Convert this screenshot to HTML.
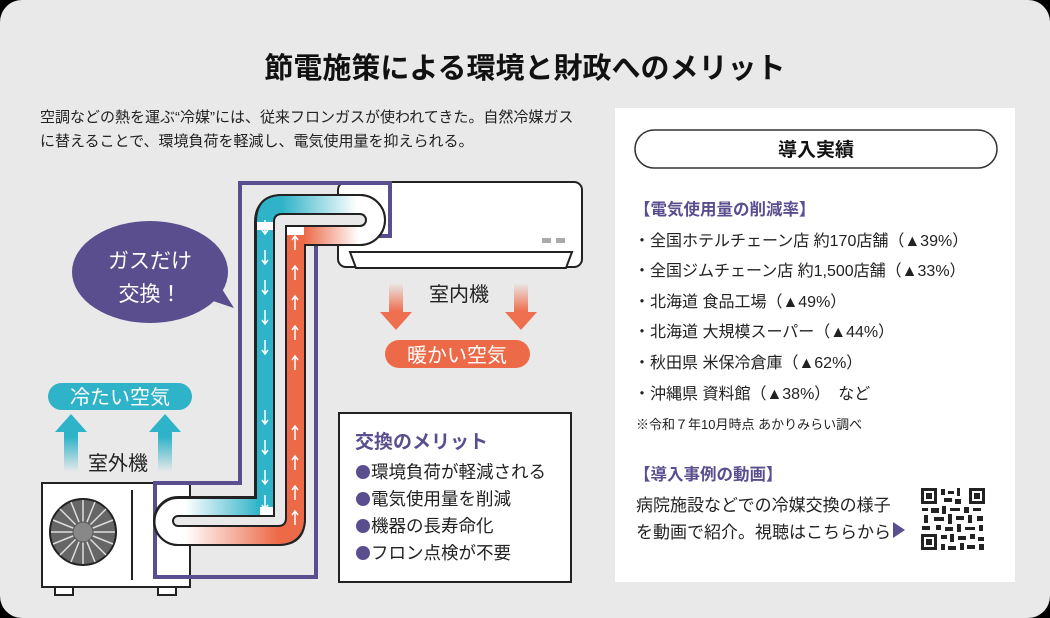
<!DOCTYPE html>
<html><head><meta charset="utf-8"><style>
html,body{margin:0;padding:0;background:#000;}
svg{display:block}
text{font-family:"Liberation Sans","Noto Sans CJK JP",sans-serif;}
</style></head><body>
<svg width="1050" height="618" viewBox="0 0 1050 618" xmlns="http://www.w3.org/2000/svg">
<defs>
<linearGradient id="bt" x1="0" x2="1"><stop offset="0" stop-color="#2fb3c8"/><stop offset="1" stop-color="#2fb3c8" stop-opacity="0"/></linearGradient>
<linearGradient id="bb" x1="0" x2="1"><stop offset="0" stop-color="#2fb3c8" stop-opacity="0"/><stop offset="1" stop-color="#2fb3c8"/></linearGradient>
<linearGradient id="ot" x1="0" x2="1"><stop offset="0" stop-color="#ec6a48"/><stop offset="1" stop-color="#ec6a48" stop-opacity="0"/></linearGradient>
<linearGradient id="ob" x1="0" x2="1"><stop offset="0" stop-color="#ec6a48" stop-opacity="0"/><stop offset="1" stop-color="#ec6a48"/></linearGradient>
<linearGradient id="au" x1="0" y1="1" x2="0" y2="0"><stop offset="0" stop-color="#2fb3c8" stop-opacity="0"/><stop offset="0.6" stop-color="#2fb3c8"/></linearGradient>
<linearGradient id="ad" x1="0" y1="0" x2="0" y2="1"><stop offset="0" stop-color="#ee7050" stop-opacity="0"/><stop offset="0.6" stop-color="#ee7050"/></linearGradient>
</defs>
<rect x="0" y="0" width="1050" height="618" rx="22" fill="#e9e9e9"/>
<text x="525" y="78" font-size="29" font-weight="bold" text-anchor="middle" fill="#111">節電施策による環境と財政へのメリット</text>
<text x="40" y="122" font-size="15" fill="#222">空調などの熱を運ぶ“冷媒”には、従来フロンガスが使われてきた。自然冷媒ガス</text>
<text x="40" y="146" font-size="15" fill="#222">に替えることで、環境負荷を軽減し、電気使用量を抑えられる。</text>

<!-- indoor unit -->
<rect x="338" y="182" width="244" height="85" rx="8" fill="#fff" stroke="#222" stroke-width="2"/>
<path d="M350 252 H572 L566 268 H356 Z" fill="#fff" stroke="#222" stroke-width="2"/>
<rect x="542" y="238" width="9" height="5" fill="#aaa"/><rect x="556" y="238" width="9" height="5" fill="#aaa"/>

<!-- outdoor unit -->
<rect x="42" y="483" width="148" height="104" fill="#fff" stroke="#222" stroke-width="2"/>
<rect x="55" y="587" width="18" height="8" fill="#fff" stroke="#222" stroke-width="2"/>
<rect x="158" y="587" width="18" height="8" fill="#fff" stroke="#222" stroke-width="2"/>
<circle cx="83" cy="532" r="33" fill="#666" stroke="#222" stroke-width="2"/>
<g stroke="#ddd" stroke-width="1.5">
<line x1="83" y1="532" x2="83" y2="500"/><line x1="83" y1="532" x2="115" y2="532"/><line x1="83" y1="532" x2="83" y2="564"/><line x1="83" y1="532" x2="51" y2="532"/>
<line x1="83" y1="532" x2="106" y2="509"/><line x1="83" y1="532" x2="106" y2="555"/><line x1="83" y1="532" x2="60" y2="555"/><line x1="83" y1="532" x2="60" y2="509"/>
<line x1="83" y1="532" x2="95" y2="502"/><line x1="83" y1="532" x2="113" y2="544"/><line x1="83" y1="532" x2="71" y2="562"/><line x1="83" y1="532" x2="53" y2="520"/>
<line x1="83" y1="532" x2="113" y2="520"/><line x1="83" y1="532" x2="95" y2="562"/><line x1="83" y1="532" x2="53" y2="544"/><line x1="83" y1="532" x2="71" y2="502"/>
</g>
<circle cx="83" cy="532" r="10" fill="#888" stroke="#555"/>
<line x1="132" y1="490" x2="132" y2="580" stroke="#222" stroke-width="2"/>

<!-- purple outline -->
<path d="M240 183 H390 V236 H316 V577 H155 V483 H240 Z" fill="none" stroke="#5b4e8f" stroke-width="4"/>

<!-- pipe loop -->
<path d="M360 205 H282 Q265 205 265 222 V507 H178 A14 14 0 0 0 178 535 H278 Q295 535 295 518 V235 H360 A15 15 0 0 0 360 205 Z" fill="none" stroke="#222" stroke-width="22"/>
<path d="M360 205 H282 Q265 205 265 222 V507 H178 A14 14 0 0 0 178 535 H278 Q295 535 295 518 V235 H360 A15 15 0 0 0 360 205 Z" fill="none" stroke="#fff" stroke-width="18"/>
<path d="M265 230 V507" stroke="#2fb3c8" stroke-width="18"/>
<path d="M265 222 Q265 205 282 205" fill="none" stroke="#2fb3c8" stroke-width="18"/>
<rect x="282" y="196" width="75" height="18" fill="url(#bt)"/>
<rect x="185" y="498" width="75" height="18" fill="url(#bb)"/>
<path d="M295 520 V235" stroke="#ec6a48" stroke-width="18"/>
<path d="M295 518 Q295 535 278 535" fill="none" stroke="#ec6a48" stroke-width="18"/>
<rect x="304" y="226" width="55" height="18" fill="url(#ot)"/>
<rect x="185" y="526" width="93" height="18" fill="url(#ob)"/>
<path d="M360 214 H282 Q274 214 274 222 V516 H178 A5 5 0 0 0 178 526 H278 Q286 526 286 518 V226 H360 A6 6 0 0 0 360 214" fill="#e9e9e9" stroke="#222" stroke-width="2"/>
<path d="M360 195 H282 Q256 195 256 222 V498 H178 A23 23 0 0 0 178 545 H278 Q305 545 305 518 V245 H360 A25 25 0 0 0 360 195" fill="none" stroke="#222" stroke-width="2"/>
<g stroke="#fff" stroke-width="1.5" fill="none">
<path d="M265 220v14m-3-4l3 4 3-4M265 250v14m-3-4l3 4 3-4M265 280v14m-3-4l3 4 3-4M265 310v14m-3-4l3 4 3-4M265 340v14m-3-4l3 4 3-4M265 410v14m-3-4l3 4 3-4M265 440v14m-3-4l3 4 3-4M265 470v14m-3-4l3 4 3-4M265 495v14m-3-4l3 4 3-4"/>
<path d="M295 250v-14m-3 4l3-4 3 4M295 280v-14m-3 4l3-4 3 4M295 310v-14m-3 4l3-4 3 4M295 340v-14m-3 4l3-4 3 4M295 370v-14m-3 4l3-4 3 4M295 440v-14m-3 4l3-4 3 4M295 470v-14m-3 4l3-4 3 4M295 500v-14m-3 4l3-4 3 4M295 525v-14m-3 4l3-4 3 4"/>
</g>

<!-- bubble -->
<ellipse cx="150" cy="272" rx="78" ry="51" fill="#5b4e8f"/>
<path d="M195 295 L234 308 L210 270 Z" fill="#5b4e8f"/>
<text x="150" y="268" font-size="21" fill="#fff" text-anchor="middle">ガスだけ</text>
<text x="150" y="301" font-size="21" fill="#fff" text-anchor="middle">交換！</text>

<!-- cold air -->
<rect x="48" y="383" width="144" height="27" rx="13.5" fill="#2fb3c8"/>
<text x="120" y="404" font-size="20" fill="#fff" text-anchor="middle">冷たい空気</text>
<path d="M64 472 V432 H55 L71 414 L87 432 H78 V472 Z" fill="url(#au)"/>
<path d="M158 472 V432 H149 L165 414 L181 432 H172 V472 Z" fill="url(#au)"/>
<text x="118" y="470" font-size="20" fill="#222" text-anchor="middle">室外機</text>

<!-- warm air -->
<path d="M389 283 V312 H380 L396 330 L412 312 H403 V283 Z" fill="url(#ad)"/>
<path d="M514 283 V312 H505 L521 330 L537 312 H528 V283 Z" fill="url(#ad)"/>
<text x="459" y="301" font-size="20" fill="#222" text-anchor="middle">室内機</text>
<rect x="385" y="340" width="145" height="28" rx="14" fill="#ec6a48"/>
<text x="457" y="362" font-size="20" fill="#fff" text-anchor="middle">暖かい空気</text>

<!-- merit box -->
<rect x="339" y="413" width="232" height="169" fill="#fff" stroke="#222" stroke-width="2"/>
<text x="355" y="448" font-size="19" font-weight="bold" fill="#5b4e8f">交換のメリット</text>
<g font-size="17.5" fill="#222">
<circle cx="363" cy="472" r="7" fill="#5b4e8f"/><text x="371" y="478">環境負荷が軽減される</text>
<circle cx="363" cy="499" r="7" fill="#5b4e8f"/><text x="371" y="505">電気使用量を削減</text>
<circle cx="363" cy="526" r="7" fill="#5b4e8f"/><text x="371" y="532">機器の長寿命化</text>
<circle cx="363" cy="553" r="7" fill="#5b4e8f"/><text x="371" y="559">フロン点検が不要</text>
</g>

<!-- right panel -->
<rect x="615" y="108" width="400" height="474" fill="#fff"/>
<rect x="635" y="130" width="362" height="38" rx="19" fill="#fff" stroke="#333" stroke-width="1.5"/>
<text x="816" y="156" font-size="19" font-weight="bold" fill="#111" text-anchor="middle">導入実績</text>
<text x="634" y="215" font-size="16.5" font-weight="bold" fill="#5b4e8f">【電気使用量の削減率】</text>
<g font-size="16" fill="#222">
<text x="634" y="246">・全国ホテルチェーン店 約170店舗（▲39%）</text>
<text x="634" y="276">・全国ジムチェーン店 約1,500店舗（▲33%）</text>
<text x="634" y="307">・北海道 食品工場（▲49%）</text>
<text x="634" y="337">・北海道 大規模スーパー（▲44%）</text>
<text x="634" y="368">・秋田県 米保冷倉庫（▲62%）</text>
<text x="634" y="399">・沖縄県 資料館（▲38%）　など</text>
</g>
<text x="636" y="429" font-size="13" fill="#222">※令和７年10月時点 あかりみらい調べ</text>
<text x="634" y="480" font-size="16.5" font-weight="bold" fill="#5b4e8f">【導入事例の動画】</text>
<text x="636" y="511" font-size="17" fill="#222">病院施設などでの冷媒交換の様子</text>
<text x="636" y="538" font-size="17" fill="#222">を動画で紹介。視聴はこちらから</text>
<path d="M893 522 L905 530 L893 538 Z" fill="#5b4e8f"/>
<g fill="#222">
<rect x="921" y="488" width="64" height="62" fill="#fff"/>
<rect x="921" y="488" width="16" height="16"/><rect x="924" y="491" width="10" height="10" fill="#fff"/><rect x="926" y="493" width="6" height="6"/>
<rect x="969" y="488" width="16" height="16"/><rect x="972" y="491" width="10" height="10" fill="#fff"/><rect x="974" y="493" width="6" height="6"/>
<rect x="921" y="534" width="16" height="16"/><rect x="924" y="537" width="10" height="10" fill="#fff"/><rect x="926" y="539" width="6" height="6"/>
<rect x="941" y="489" width="4" height="6"/><rect x="948" y="491" width="6" height="3"/><rect x="957" y="488" width="3" height="8"/><rect x="944" y="498" width="8" height="4"/><rect x="955" y="499" width="6" height="5"/>
<rect x="922" y="508" width="6" height="3"/><rect x="931" y="508" width="8" height="5"/><rect x="942" y="506" width="4" height="8"/><rect x="950" y="508" width="10" height="3"/><rect x="964" y="507" width="5" height="6"/><rect x="973" y="508" width="8" height="3"/>
<rect x="924" y="515" width="4" height="8"/><rect x="934" y="517" width="10" height="4"/><rect x="948" y="514" width="4" height="10"/><rect x="956" y="516" width="8" height="4"/><rect x="968" y="515" width="4" height="8"/><rect x="977" y="516" width="6" height="5"/>
<rect x="922" y="526" width="8" height="4"/><rect x="936" y="525" width="5" height="5"/><rect x="945" y="527" width="8" height="4"/><rect x="957" y="524" width="4" height="8"/><rect x="965" y="527" width="10" height="3"/><rect x="979" y="525" width="4" height="6"/>
<rect x="941" y="535" width="6" height="4"/><rect x="950" y="534" width="4" height="8"/><rect x="958" y="536" width="8" height="4"/><rect x="970" y="534" width="5" height="5"/><rect x="978" y="537" width="6" height="4"/>
<rect x="941" y="544" width="4" height="6"/><rect x="948" y="546" width="8" height="4"/><rect x="960" y="543" width="4" height="7"/><rect x="967" y="545" width="8" height="4"/><rect x="979" y="544" width="5" height="6"/>
</g>
</svg>
</body></html>
